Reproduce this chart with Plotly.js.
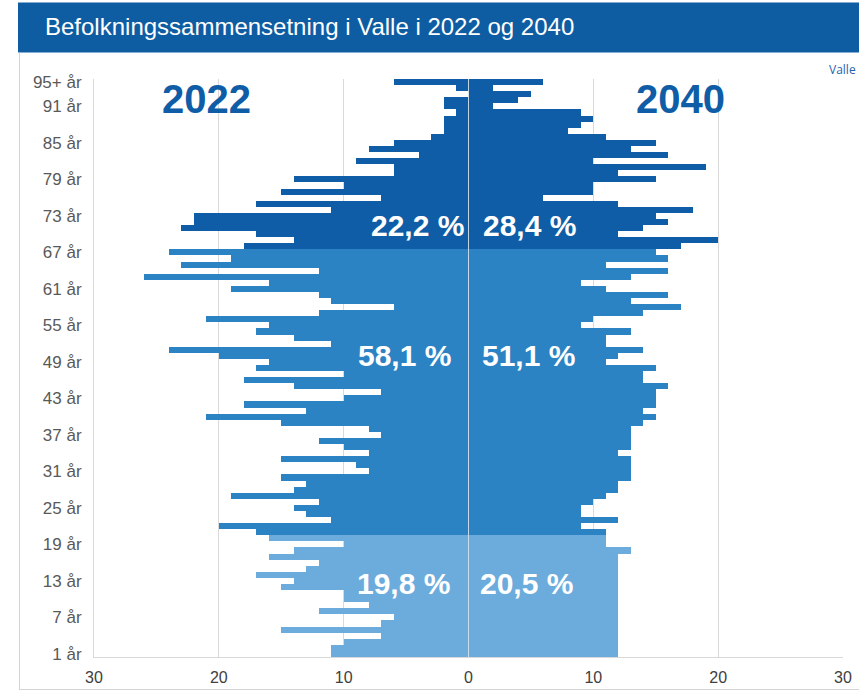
<!DOCTYPE html>
<html>
<head>
<meta charset="utf-8">
<script src="https://cdn.plot.ly/plotly-3.0.1.min.js"></script>
<style>
html,body{margin:0;padding:0;background:#ffffff;}
#chart{width:859px;height:691px;}
</style>
</head>
<body>
<div id="chart"></div>
<script>
// Age rows from bottom (1) to top (95+)
const tickPos = [1,7,13,19,25,31,37,43,49,55,61,67,73,79,85,91,95];
const tickText = ['1 år','7 år','13 år','19 år','25 år','31 år','37 år','43 år','49 år','55 år','61 år','67 år','73 år','79 år','85 år','91 år','95+ år'];

// Number of persons per age row, bottom row first
const pop2022 = [11,11,10,7,15,7,6,12,8,10,
                 10,15,14,17,13,12,16,14,10,16,
                 17,20,11,13,14,12,19,14,13,15,
                 8,9,15,8,10,12,7,8,15,21,
                 13,18,10,7,14,18,10,17,16,20,
                 24,11,14,17,16,21,12,6,11,12,
                 19,16,26,12,23,19,24,18,14,17,
                 23,22,22,11,17,7,15,10,14,6,
                 6,9,4,8,6,3,2,2,2,1,
                 2,2,0,1,6];
const pop2040 = [12,12,12,12,12,12,12,12,12,12,
                 12,12,12,12,12,12,12,13,11,11,
                 11,9,12,9,9,10,11,12,12,13,
                 13,13,13,12,13,13,13,13,14,15,
                 14,15,15,15,16,14,14,15,11,12,
                 14,11,11,13,9,10,14,17,13,16,
                 11,9,13,16,11,16,15,17,20,12,
                 14,16,15,18,12,6,10,10,15,12,
                 19,10,16,13,15,11,8,9,10,9,
                 2,4,5,2,6];

// Age groups: first row of each group (young, working age, elderly)
const groupStart = [1,21,68];
const groupColors = ['#6CACDD','#2C83C3','#0E5DA6'];
const share2022 = ['19,8 %','58,1 %','22,2 %'];
const share2040 = ['20,5 %','51,1 %','28,4 %'];
const yearLabels = ['2022','2040'];

const rows = pop2022.map((v,i)=>i+1);
function colorFor(r){
  let c = groupColors[0];
  for(let g=0; g<groupStart.length; g++){ if(r>=groupStart[g]) c = groupColors[g]; }
  return c;
}
const colors = rows.map(colorFor);

const W=859, H=691, L=94, R=16, T=79.4, B=34;
const pw = W-L-R, ph = H-T-B;
const px = p => (p-L)/pw;
const py = p => (H-B-p)/ph;

const traces = [
  {type:'bar', orientation:'h', x:pop2022.map(v=>-v), y:rows, width:1,
   marker:{color:colors, line:{width:0}}, hoverinfo:'skip', showlegend:false},
  {type:'bar', orientation:'h', x:pop2040, y:rows, width:1,
   marker:{color:colors, line:{width:0}}, hoverinfo:'skip', showlegend:false}
];

const font = 'Liberation Sans, Arial, sans-serif';
const annY = [584, 356, 225.7];
const annLeftX = [452, 453, 466];
const annRightX = [478, 480, 481];
const annotations = [];
for(let g=0; g<3; g++){
  annotations.push({xref:'paper', yref:'paper', x:px(annLeftX[g]), y:py(annY[g]), xanchor:'right', yanchor:'middle',
    text:'<b>'+share2022[g]+'</b>', showarrow:false, font:{family:font, size:30, color:'#ffffff'}});
  annotations.push({xref:'paper', yref:'paper', x:px(annRightX[g]), y:py(annY[g]), xanchor:'left', yanchor:'middle',
    text:'<b>'+share2040[g]+'</b>', showarrow:false, font:{family:font, size:30, color:'#ffffff'}});
}
annotations.push({xref:'paper', yref:'paper', x:px(206), y:py(99), xanchor:'center', yanchor:'middle',
  text:'<b>'+yearLabels[0]+'</b>', showarrow:false, font:{family:font, size:40, color:'#0E5DA6'}});
annotations.push({xref:'paper', yref:'paper', x:px(680), y:py(99), xanchor:'center', yanchor:'middle',
  text:'<b>'+yearLabels[1]+'</b>', showarrow:false, font:{family:font, size:40, color:'#0E5DA6'}});
annotations.push({xref:'paper', yref:'paper', x:px(827), y:py(70), xanchor:'left', yanchor:'middle',
  text:'Valle', showarrow:false, font:{family:'Open Sans, Liberation Sans, sans-serif', size:12, color:'#1F64AD'}});

const shapes = [
  {type:'rect', xref:'paper', yref:'paper', x0:px(18), x1:px(862), y0:py(53), y1:py(3),
   fillcolor:'#0E5DA3', line:{width:0}, layer:'below'},
  {type:'line', xref:'paper', yref:'paper', x0:px(19.5), x1:px(19.5), y0:py(53), y1:py(690),
   line:{color:'#d4d4d4', width:1}},
  {type:'line', xref:'paper', yref:'paper', x0:px(19.5), x1:px(862), y0:py(689.5), y1:py(689.5),
   line:{color:'#d4d4d4', width:1}},
  {type:'line', xref:'x', yref:'paper', x0:0, x1:0, y0:0, y1:1,
   line:{color:'rgba(215,225,235,0.9)', width:1}, layer:'above'}
];

const layout = {
  width:W, height:H,
  margin:{l:L, r:R, t:T, b:B, pad:0},
  paper_bgcolor:'#ffffff', plot_bgcolor:'#ffffff',
  barmode:'overlay', bargap:0,
  title:{text:'Befolkningssammensetning i Valle i 2022 og 2040', xref:'container', yref:'container',
    x:45/W, xanchor:'left', y:1-27/H, yanchor:'middle',
    font:{family:font, size:24, color:'#ffffff'}},
  xaxis:{range:[-30,30], tickvals:[-30,-20,-10,0,10,20,30], ticktext:['30','20','10','0','10','20','30'],
    showgrid:true, gridcolor:'#d9d9d9', gridwidth:1, zeroline:false,
    showline:true, linecolor:'#d9d9d9', linewidth:1, ticks:'outside', ticklen:6, tickcolor:'rgba(0,0,0,0)',
    tickfont:{family:font, size:16, color:'#404040'}, fixedrange:true},
  yaxis:{range:[0.5,95.5], tickvals:tickPos, ticktext:tickText, showgrid:false, zeroline:false,
    showline:true, linecolor:'#d9d9d9', linewidth:1, ticks:'outside', ticklen:8, tickcolor:'rgba(0,0,0,0)',
    tickfont:{family:font, size:17, color:'#595959'}, fixedrange:true},
  annotations:annotations,
  shapes:shapes
};

Plotly.newPlot('chart', traces, layout, {displayModeBar:false, staticPlot:true});
</script>
</body>
</html>
